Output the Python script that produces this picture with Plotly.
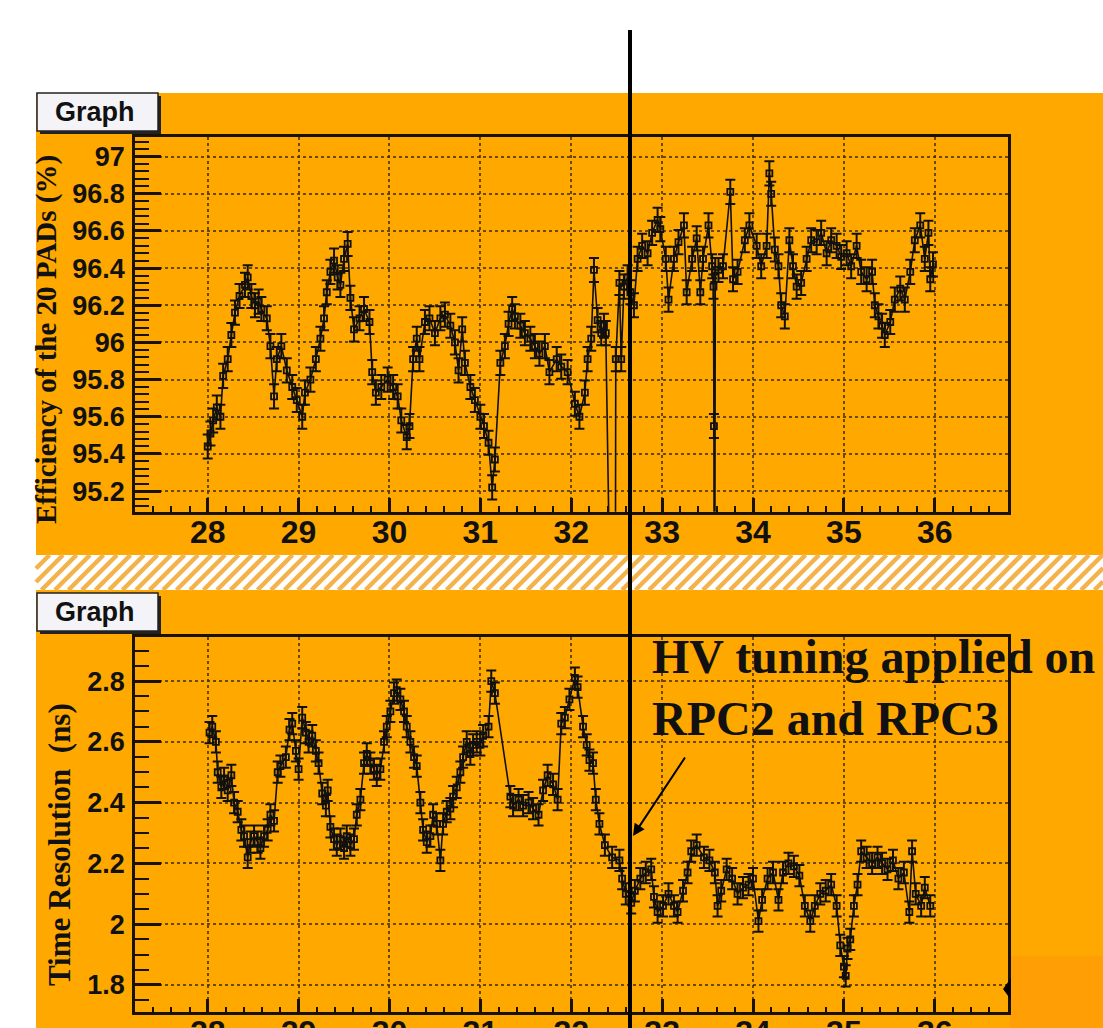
import plotly.graph_objects as go

W, H = 1103, 1028

# ---------------- data ----------------
eff_x = [28.00, 28.03, 28.06, 28.10, 28.14, 28.17, 28.22, 28.26, 28.30, 28.35, 28.41, 28.44, 28.48, 28.52,
         28.56, 28.59, 28.65, 28.69, 28.73, 28.76, 28.81, 28.87, 28.93, 28.98, 29.04, 29.07, 29.13, 29.19,
         29.24, 29.28, 29.31, 29.35, 29.39, 29.43, 29.46, 29.50, 29.54, 29.57, 29.61, 29.67, 29.72, 29.78,
         29.81, 29.85, 29.91, 29.98, 30.04, 30.09, 30.13, 30.19, 30.22, 30.26, 30.30, 30.33, 30.39, 30.44,
         30.50, 30.56, 30.61, 30.67, 30.72, 30.76, 30.80, 30.83, 30.89, 30.94, 31.00, 31.04, 31.09, 31.13,
         31.16, 31.22, 31.27, 31.31, 31.35, 31.38, 31.44, 31.49, 31.55, 31.60, 31.65, 31.71, 31.76, 31.84,
         31.89, 31.96, 32.04, 32.09, 32.15, 32.18, 32.22, 32.25, 32.29, 32.33, 32.36, 32.38, 32.39, 32.48,
         32.49, 32.53, 32.55, 32.58, 32.62, 32.65, 32.69, 32.73, 32.78, 32.84, 32.89, 32.95, 32.98, 33.04,
         33.07, 33.13, 33.18, 33.24, 33.27, 33.33, 33.38, 33.42, 33.45, 33.51, 33.55, 33.565, 33.57, 33.575,
         33.585, 33.62, 33.67, 33.75, 33.78, 33.83, 33.91, 33.96, 34.04, 34.09, 34.15, 34.18, 34.20, 34.24,
         34.28, 34.31, 34.35, 34.40, 34.44, 34.48, 34.53, 34.59, 34.64, 34.70, 34.75, 34.81, 34.86, 34.92,
         34.97, 35.03, 35.08, 35.14, 35.19, 35.25, 35.31, 35.34, 35.38, 35.42, 35.45, 35.51, 35.56, 35.62,
         35.67, 35.73, 35.78, 35.84, 35.89, 35.93, 35.95, 35.98]
eff_y = [95.44, 95.51, 95.58, 95.65, 95.60, 95.82, 95.91, 96.04, 96.16, 96.25, 96.31, 96.35, 96.25, 96.20,
         96.22, 96.18, 96.13, 95.98, 95.71, 95.91, 95.98, 95.85, 95.76, 95.69, 95.60, 95.73, 95.80, 95.91,
         96.02, 96.13, 96.27, 96.38, 96.44, 96.35, 96.31, 96.45, 96.53, 96.24, 96.07, 96.13, 96.18, 96.11,
         95.84, 95.73, 95.76, 95.80, 95.76, 95.71, 95.58, 95.49, 95.55, 95.91, 96.02, 95.91, 96.11, 96.13,
         96.05, 96.13, 96.15, 96.09, 96.00, 95.85, 96.07, 95.89, 95.76, 95.69, 95.60, 95.55, 95.46, 95.22,
         95.37, 95.89, 95.98, 96.10, 96.18, 96.14, 96.09, 96.05, 96.02, 95.98, 95.94, 95.98, 95.84, 95.91,
         95.87, 95.84, 95.67, 95.60, 95.73, 95.91, 96.02, 96.39, 96.12, 96.05, 96.09, 96.05, 93.00, 93.00,
         95.91, 96.32, 95.91, 96.30, 96.35, 96.27, 96.20, 96.45, 96.52, 96.48, 96.59, 96.66, 96.61, 96.45,
         96.23, 96.45, 96.54, 96.63, 96.27, 96.45, 96.56, 96.27, 96.45, 96.63, 96.41, 96.30, 95.55, 93.00,
         96.39, 96.39, 96.41, 96.81, 96.34, 96.38, 96.55, 96.63, 96.52, 96.41, 96.52, 96.91, 96.80, 96.50,
         96.41, 96.20, 96.14, 96.55, 96.41, 96.30, 96.32, 96.45, 96.55, 96.54, 96.59, 96.48, 96.55, 96.52,
         96.46, 96.48, 96.41, 96.52, 96.38, 96.34, 96.38, 96.20, 96.14, 96.09, 96.04, 96.11, 96.23, 96.29,
         96.23, 96.38, 96.55, 96.63, 96.45, 96.59, 96.34, 96.42]

res_x = [28.02, 28.05, 28.09, 28.11, 28.15, 28.18, 28.22, 28.26, 28.29, 28.33, 28.37, 28.40, 28.44, 28.47,
         28.51, 28.55, 28.58, 28.62, 28.66, 28.69, 28.73, 28.77, 28.80, 28.86, 28.90, 28.93, 28.97, 29.00,
         29.04, 29.08, 29.11, 29.15, 29.19, 29.22, 29.26, 29.30, 29.32, 29.35, 29.39, 29.42, 29.46, 29.50,
         29.53, 29.57, 29.61, 29.64, 29.68, 29.72, 29.75, 29.79, 29.83, 29.86, 29.90, 29.94, 29.97, 30.01,
         30.05, 30.08, 30.12, 30.16, 30.19, 30.23, 30.27, 30.30, 30.34, 30.37, 30.41, 30.45, 30.48, 30.52,
         30.56, 30.59, 30.63, 30.67, 30.70, 30.74, 30.78, 30.81, 30.85, 30.89, 30.92, 30.96, 31.00, 31.03,
         31.09, 31.12, 31.16, 31.33, 31.36, 31.42, 31.47, 31.53, 31.58, 31.64, 31.69, 31.74, 31.80, 31.85,
         31.89, 31.93, 31.98, 32.04, 32.07, 32.13, 32.17, 32.20, 32.24, 32.27, 32.31, 32.37, 32.45, 32.53,
         32.56, 32.60, 32.66, 32.70, 32.76, 32.82, 32.88, 32.91, 32.95, 33.01, 33.07, 33.13, 33.17, 33.23,
         33.28, 33.32, 33.38, 33.46, 33.52, 33.58, 33.61, 33.65, 33.71, 33.77, 33.83, 33.89, 33.95, 34.00,
         34.06, 34.10, 34.16, 34.22, 34.28, 34.33, 34.39, 34.45, 34.51, 34.57, 34.63, 34.68, 34.74, 34.80,
         34.86, 34.92, 34.96, 35.00, 35.02, 35.04, 35.07, 35.11, 35.15, 35.19, 35.25, 35.31, 35.37, 35.42,
         35.48, 35.54, 35.60, 35.66, 35.72, 35.75, 35.79, 35.85, 35.89, 35.95]
res_y = [2.63, 2.65, 2.60, 2.50, 2.45, 2.48, 2.44, 2.49, 2.40, 2.37, 2.31, 2.29, 2.22, 2.27,
         2.29, 2.27, 2.25, 2.29, 2.31, 2.36, 2.34, 2.50, 2.52, 2.55, 2.64, 2.66, 2.57, 2.51,
         2.68, 2.63, 2.60, 2.62, 2.57, 2.53, 2.43, 2.39, 2.44, 2.32, 2.28, 2.26, 2.28, 2.25,
         2.29, 2.26, 2.28, 2.36, 2.41, 2.53, 2.56, 2.53, 2.51, 2.49, 2.51, 2.60, 2.65, 2.70,
         2.76, 2.77, 2.74, 2.70, 2.65, 2.60, 2.55, 2.52, 2.40, 2.31, 2.27, 2.29, 2.36, 2.33,
         2.21, 2.33, 2.37, 2.38, 2.42, 2.45, 2.50, 2.55, 2.60, 2.56, 2.59, 2.60, 2.59, 2.62,
         2.65, 2.80, 2.76, 2.42, 2.39, 2.41, 2.39, 2.40, 2.38, 2.36, 2.44, 2.49, 2.46, 2.41,
         2.66, 2.68, 2.74, 2.81, 2.78, 2.65, 2.59, 2.54, 2.53, 2.41, 2.33, 2.26, 2.22, 2.21,
         2.15, 2.10, 2.07, 2.11, 2.15, 2.17, 2.18, 2.09, 2.04, 2.06, 2.10, 2.06, 2.04, 2.11,
         2.17, 2.24, 2.26, 2.22, 2.21, 2.17, 2.06, 2.11, 2.18, 2.15, 2.10, 2.12, 2.13, 2.15,
         2.01, 2.08, 2.15, 2.17, 2.08, 2.17, 2.20, 2.19, 2.16, 2.06, 2.01, 2.06, 2.10, 2.11,
         2.13, 2.06, 1.93, 1.86, 1.83, 1.92, 1.95, 2.06, 2.13, 2.24, 2.22, 2.20, 2.22, 2.20,
         2.18, 2.21, 2.15, 2.17, 2.04, 2.24, 2.10, 2.06, 2.12, 2.06]

eff_err = 0.065
res_err = 0.035

x_ticks = [28, 29, 30, 31, 32, 33, 34, 35, 36]
top_title = "Efficiency of the 20 PADs (%)"
bot_title = "Time Resolution  (ns)"
note_text = "HV tuning applied on<br>RPC2 and RPC3"

# ---------------- styling helpers ----------------
ORANGE = "#FFA800"
INK = "#1a1200"
GRID = "rgba(70,48,0,0.8)"

def X(px):
    return px / W

def Y(py):
    return 1 - py / H

fig = go.Figure()

for xs, ys, xa, ya, err in ((eff_x, eff_y, "x", "y", eff_err), (res_x, res_y, "x2", "y2", res_err)):
    fig.add_trace(go.Scatter(
        x=xs, y=ys, xaxis=xa, yaxis=ya, mode="lines+markers",
        line=dict(color="#111111", width=1.6),
        marker=dict(symbol="square-open", size=6, color="#111111", line=dict(width=1.8, color="#111111")),
        error_y=dict(type="constant", value=err, color="#111111", thickness=2, width=5),
        showlegend=False, cliponaxis=True))

xdom = [X(135), X(1007.5)]
top_dom = [Y(511.7), Y(137.3)]
bot_dom = [Y(1012.3), Y(637.3)]

def xaxis_cfg(anchor):
    return dict(
        domain=xdom, anchor=anchor, range=[27.2, 36.8],
        tickmode="array", tickvals=x_ticks, ticktext=[str(v) for v in x_ticks],
        ticks="inside", ticklen=14, tickwidth=2.5, tickcolor=INK,
        minor=dict(ticks="inside", ticklen=6, tickwidth=2, tickcolor=INK, dtick=0.2, tick0=28, showgrid=False),
        showgrid=True, gridcolor=GRID, griddash="dot", gridwidth=2,
        showline=True, mirror=True, linecolor=INK, linewidth=2.5,
        zeroline=False, automargin=False,
        tickfont=dict(family="Liberation Sans", size=32, color="#111111", weight="bold"),
        ticklabelstandoff=-10,
    )

def yaxis_cfg(anchor, dom, rng, dtick, tick0, mdtick):
    return dict(
        domain=dom, anchor=anchor, range=rng,
        dtick=dtick, tick0=tick0,
        ticks="inside", ticklen=26, tickwidth=3, tickcolor=INK,
        minor=dict(ticks="inside", ticklen=14, tickwidth=2, tickcolor=INK, dtick=mdtick, tick0=tick0, showgrid=False),
        showgrid=True, gridcolor=GRID, griddash="dot", gridwidth=2,
        showline=True, mirror=True, linecolor=INK, linewidth=2.5,
        zeroline=False, automargin=False,
        tickfont=dict(family="Liberation Sans", size=27, color="#111111", weight="bold"),
        ticklabelstandoff=2,
    )

fig.update_layout(
    width=W, height=H,
    margin=dict(l=0, r=0, t=0, b=0),
    paper_bgcolor="white", plot_bgcolor=ORANGE,
    xaxis=xaxis_cfg("y"),
    yaxis=yaxis_cfg("x", top_dom, [95.089, 97.104], 0.2, 95.2, 0.04),
    xaxis2=xaxis_cfg("y2"),
    yaxis2=yaxis_cfg("x2", bot_dom, [1.71, 2.944], 0.2, 1.8, 0.05),
    showlegend=False,
)

shapes = []
# orange canvas
shapes.append(dict(type="rect", xref="paper", yref="paper", x0=X(36), x1=1, y0=0, y1=Y(93),
                   fillcolor=ORANGE, line=dict(width=0), layer="below"))
# slightly different orange patch bottom-right
shapes.append(dict(type="rect", xref="paper", yref="paper", x0=X(1010), x1=1, y0=0, y1=Y(956),
                   fillcolor="#FF9E05", line=dict(width=0), layer="below"))
# hatched separator band
band_top, band_bot = 555, 590
shapes.append(dict(type="rect", xref="paper", yref="paper", x0=X(36), x1=1, y0=Y(band_bot), y1=Y(band_top),
                   fillcolor="white", line=dict(width=0), layer="below"))
hh = band_bot - band_top
x0 = 36 - hh
while x0 < W:
    xa, ya = x0, band_bot
    xb, yb = x0 + hh, band_top
    if xa < 36:
        ya = band_bot - (36 - xa)
        xa = 36
    if xb > W:
        yb = band_top + (xb - W)
        xb = W
    if xb > xa:
        shapes.append(dict(type="line", xref="paper", yref="paper", x0=X(xa), y0=Y(ya), x1=X(xb), y1=Y(yb),
                           line=dict(color="#F4B24A", width=4.5), layer="below"))
    x0 += 13.5

# "Graph" label boxes
for top in (93, 593):
    shapes.append(dict(type="rect", xref="paper", yref="paper", x0=X(40), x1=X(161), y0=Y(top + 41), y1=Y(top + 3),
                       fillcolor="#222222", line=dict(width=0), layer="above"))
    shapes.append(dict(type="rect", xref="paper", yref="paper", x0=X(37), x1=X(158), y0=Y(top + 38), y1=Y(top),
                       fillcolor="#F3F3F8", line=dict(color="#222222", width=1.5), layer="above"))

# vertical marker line
shapes.append(dict(type="line", xref="paper", yref="paper", x0=X(630), x1=X(630), y0=0, y1=Y(30),
                   line=dict(color="black", width=4), layer="above"))
# small black arrow tip at the right edge
shapes.append(dict(type="path", xref="paper", yref="paper",
                   path=f"M {X(1011)} {Y(978)} L {X(1003)} {Y(989)} L {X(1011)} {Y(1000)} Z",
                   fillcolor="black", line=dict(width=0), layer="above"))

fig.update_layout(shapes=shapes)

annotations = []
for cy in (112, 612):
    annotations.append(dict(xref="paper", yref="paper", x=X(95), y=Y(cy), text="Graph", showarrow=False,
                            font=dict(family="Liberation Sans", size=27, color="#111111", weight="bold"),
                            xanchor="center", yanchor="middle"))
annotations.append(dict(xref="paper", yref="paper", x=X(47), y=Y(340), text=top_title, showarrow=False,
                        textangle=-90, font=dict(family="Liberation Serif", size=29, color="#111111", weight="bold"),
                        xanchor="center", yanchor="middle"))
annotations.append(dict(xref="paper", yref="paper", x=X(59), y=Y(845), text=bot_title, showarrow=False,
                        textangle=-90, font=dict(family="Liberation Serif", size=31, color="#111111", weight="bold"),
                        xanchor="center", yanchor="middle"))
annotations.append(dict(xref="paper", yref="paper", x=X(650), y=Y(628), text=note_text, showarrow=False,
                        align="left", xanchor="left", yanchor="top",
                        font=dict(family="Liberation Serif", size=48, color="#111111", weight="bold")))
annotations.append(dict(xref="paper", yref="paper", x=X(633), y=Y(836), ax=53, ay=-80, axref="pixel", ayref="pixel",
                        text="", showarrow=True, arrowhead=2, arrowsize=1.2, arrowwidth=2, arrowcolor="black"))
fig.update_layout(annotations=annotations)

fig.write_html("out.html")
